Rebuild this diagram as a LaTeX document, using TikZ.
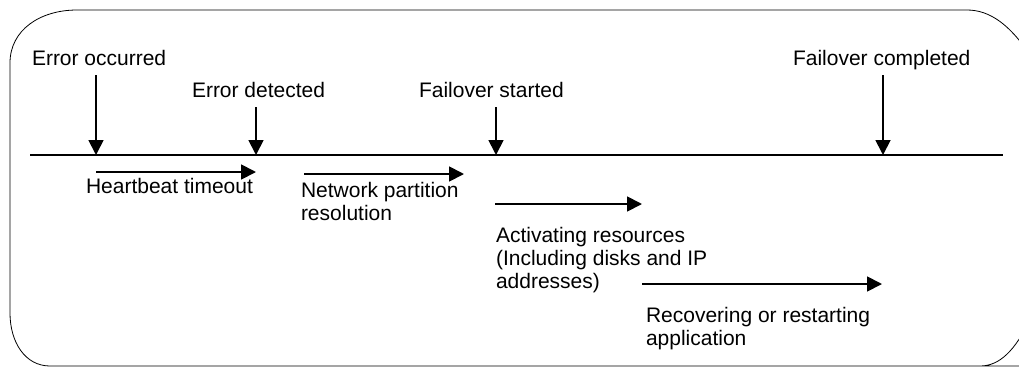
\documentclass[tikz,border=0pt]{standalone}
\usepackage{fontspec}
\setmainfont{Liberation Sans}
\usetikzlibrary{arrows.meta}
\begin{document}
\begin{tikzpicture}[x=1pt,y=-1pt,
  lbl/.style={anchor=base west,inner sep=0pt,outer sep=0pt,align=left,font=\fontsize{21}{22.7}\selectfont},
  arr/.style={line width=1.8pt,-{Triangle[length=15pt,width=15pt]}},
  tl/.style={line width=1.8pt}]
\useasboundingbox (0,0) rectangle (1019,367);
\begin{scope}
\clip (0,0) rectangle (1019,367);
\draw[line width=0.8pt] (1060,366) -- (50,366) .. controls (25,366) and (10,342) .. (10,313)
  -- (10,63) .. controls (10,30) and (40,10) .. (77,10) -- (967,10)
  .. controls (990,10) and (1010,25) .. (1030,55) -- (1030,320)
  .. controls (1015,350) and (1000,366) .. (980,366);
\end{scope}
% timeline
\coordinate (L) at (30,155);
\coordinate (R) at (1003,155);
\draw[tl] (L) -- (R);
\coordinate (t1) at (96,155);
\coordinate (t2) at (256,155);
\coordinate (t3) at (496,155);
\coordinate (t4) at (883,155);
% event labels
\node[lbl] (eo) at (32,65) {Error occurred};
\node[lbl] (ed) at (192,97) {Error detected};
\node[lbl] (fs) at (419,97) {Failover started};
\node[lbl] (fc) at (793,65) {Failover completed};
\coordinate (a1) at (96,75);
\coordinate (a2) at (256,107);
\coordinate (a3) at (496,107);
\coordinate (a4) at (883,75);
\draw[arr] (a1) -- (t1);
\draw[arr] (a2) -- (t2);
\draw[arr] (a3) -- (t3);
\draw[arr] (a4) -- (t4);
% durations
\coordinate (h1) at (96,172);
\coordinate (h2) at (256,172);
\draw[arr] (h1) -- (h2);
\node[lbl] (hb) at (86,193) {Heartbeat timeout};
\coordinate (n1) at (304,174);
\coordinate (n2) at (464,174);
\draw[arr] (n1) -- (n2);
\node[lbl] (np) at (301,220) {Network partition\\resolution};
\coordinate (r1) at (495,204);
\coordinate (r2) at (642,204);
\draw[arr] (r1) -- (r2);
\node[lbl] (ar) at (496,288) {Activating resources\\(Including disks and IP\\addresses)};
\coordinate (p1) at (642,284);
\coordinate (p2) at (882,284);
\draw[arr] (p1) -- (p2);
\node[lbl] (ra) at (646,345) {Recovering or restarting\\application};
\end{tikzpicture}
\end{document}
